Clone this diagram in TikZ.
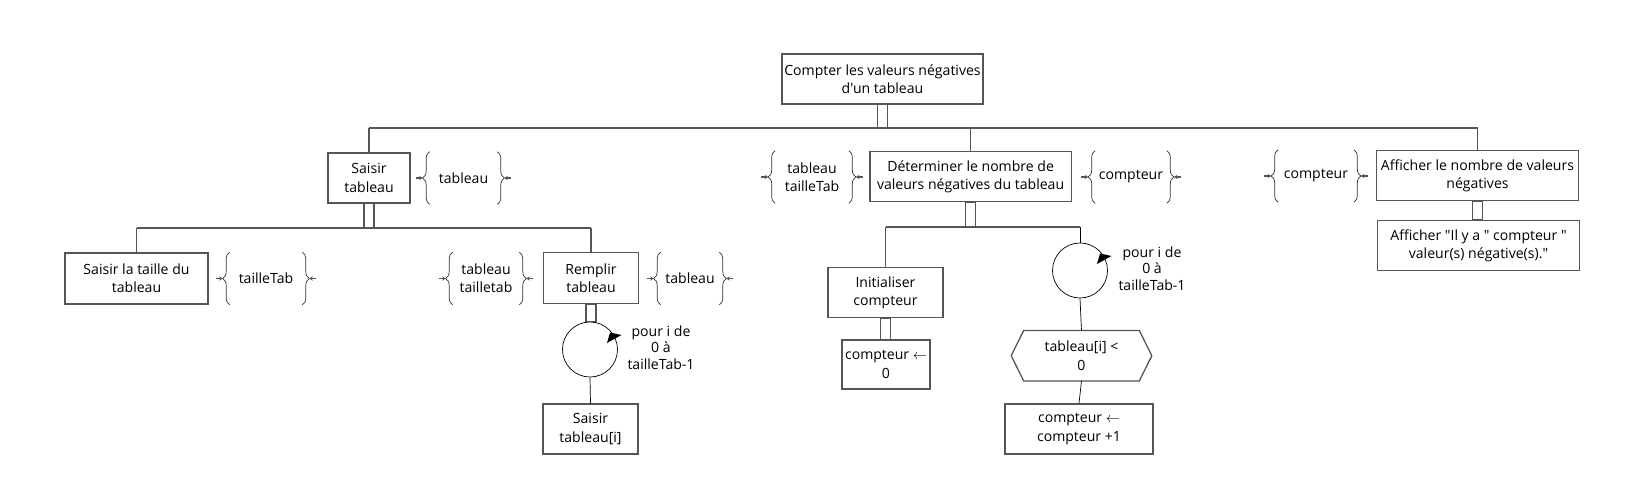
\documentclass[tikz,border=0pt]{standalone}
\usepackage{fontspec}
\setmainfont{Open Sans}[Ligatures=TeXOff]
\usetikzlibrary{calc,arrows.meta,decorations.pathreplacing}
\definecolor{trait}{HTML}{555555}

\begin{document}
\begin{tikzpicture}[x=0.025cm,y=-0.025cm,
	font=\fontsize{10}{13}\selectfont,
	tache/.style={draw=trait,line width=0.9pt,align=center,inner sep=1pt},
	donnee/.style={align=center,minimum height=1.3cm,inner sep=0pt},
	accolade/.style={draw=black!80,line width=0.5pt,decorate,decoration={brace,amplitude=5pt}},
	fleche/.style={draw=trait,line width=1pt,-{Stealth[length=2.5pt,width=3pt]}},
	boucle/.style={circle,draw,line width=0.5pt,minimum size=1.375cm,inner sep=0pt},
	lien/.style={draw=trait,line width=0.9pt}]
				\useasboundingbox (0,0) rectangle (1640,499);
				\coordinate (busA) at (0,128);
				\coordinate (busB) at (0,228);
				\coordinate (busC) at (0,227);
				
				\node[tache,minimum width=5.025cm,minimum height=1.25cm] (racine) at (882.5,79) {Compter les valeurs négatives\\d'un tableau};
				\node[tache,minimum width=2.05cm,minimum height=1.25cm] (saisir) at (369,178) {Saisir\\tableau};
				\node[tache,minimum width=5.025cm,minimum height=1.25cm] (determ) at (970.6,176.7) {Déterminer le nombre de\\valeurs négatives du tableau};
				\node[tache,minimum width=5.05cm,minimum height=1.25cm] (afficher) at (1477.5,175.7) {Afficher le nombre de valeurs\\négatives};
				\node[tache,minimum width=5.05cm,minimum height=1.25cm] (message) at (1478.5,245.7) {Afficher "Il y a " compteur "\\valeur(s) négative(s)."};
				\node[tache,minimum width=3.575cm,minimum height=1.275cm] (taille) at (136.5,278.5) {Saisir la taille du\\tableau};
				\node[tache,minimum width=2.375cm,minimum height=1.275cm] (remplir) at (591,278) {Remplir\\tableau};
				\node[tache,minimum width=2.375cm,minimum height=1.25cm] (saisirI) at (590.5,429) {Saisir\\tableau[i]};
				\node[tache,minimum width=2.875cm,minimum height=1.25cm] (init) at (885.5,292.7) {Initialiser\\compteur};
				\node[tache,minimum width=2.2cm,minimum height=1.225cm] (zero) at (886,364.5) {compteur $\leftarrow$\\0};
				\node[tache,minimum width=3.7cm,minimum height=1.25cm] (inc) at (1079,429) {compteur $\leftarrow$\\compteur +1};
				\node[align=center,minimum width=3.5cm,minimum height=1.25cm,inner sep=0pt] (test) at (1081.5,355.7) {tableau[i] <\\0};
				\draw[lien] (test.west) -- ($(test.north west)+(12.5,0)$) -- ($(test.north east)+(-12.5,0)$) -- (test.east)
				-- ($(test.south east)+(-12.5,0)$) -- ($(test.south west)+(12.5,0)$) -- cycle;
				
				\node[boucle] (boucleA) at (590,349.5) {};
				\node[boucle] (boucleB) at (1080,270.5) {};
				\node[align=center,font=\fontsize{10}{11.7}\selectfont] (pourA) at ($(boucleA.center)+(71,-2)$) {pour i de\\0 à\\tailleTab-1};
				\node[align=center,font=\fontsize{10}{11.7}\selectfont] (pourB) at ($(boucleB.center)+(72,-2)$) {pour i de\\0 à\\tailleTab-1};
				\foreach \b in {boucleA,boucleB}{
					\fill ($(\b.center)+(17,-6.5)$) -- ($(\b.center)+(20,-17)$) -- ($(\b.center)+(31.5,-14.5)$) -- cycle;}
				
				\node[donnee,minimum width=2.025cm] (dTab) at (463.5,178) {tableau};
				\node[donnee,minimum width=2.15cm] (dTaille) at (266,278.5) {tailleTab};
				\node[donnee,minimum width=2cm] (dTabTaille) at (486,278.5) {tableau\\tailletab};
				\node[donnee,minimum width=1.8cm] (dTabB) at (690,278.5) {tableau};
				\node[donnee,minimum width=2.175cm] (dTabTailleB) at (812,177) {tableau\\tailleTab};
				\node[donnee,minimum width=2.125cm] (dCpt) at (1131,177) {compteur};
				\node[donnee,minimum width=2.225cm] (dCptB) at (1316,176) {compteur};
				
				\foreach \d in {dTab,dTaille,dTabTaille,dTabB,dTabTailleB,dCpt,dCptB}{
					\draw[accolade] ($(\d.south west)+(7,0)$) -- ($(\d.north west)+(7,0)$);
					\draw[accolade] ($(\d.north east)+(-7,0)$) -- ($(\d.south east)+(-7,0)$);
					\draw[fleche] ($(\d.west)+(-7,0)$) -- (\d.west);
					\draw[fleche] ($(\d.east)+(7,0)$) -- (\d.east);}
				
				\draw[lien] (saisir.north |- busA) -- (afficher.north |- busA);
				\draw[lien] (taille.north |- busB) -- (remplir.north |- busB);
				\draw[lien] (init.north |- busC) -- (boucleB.north |- busC);
				
				\foreach \n in {saisir,determ,afficher}{
					\draw[lien] (\n.north) -- (\n.north |- busA);}
				\foreach \n in {taille,remplir}{
					\draw[lien] (\n.north) -- (\n.north |- busB);}
				\draw[lien] (init.north) -- (init.north |- busC);
				
				\foreach \a/\b in {racine/busA,saisir/busB,determ/busC,remplir/boucleA.north,init/zero.north,afficher/message.north}{
					\draw[lien] ($(\a.south)+(-5,0)$) rectangle ($(\a.south |- \b)+(5,0)$);}
				
				\draw[line width=0.5pt] (boucleB.north) -- (boucleB.north |- busC);
				\draw[line width=0.5pt] (boucleA.south) -- (saisirI.north);
				\draw[line width=0.5pt] (boucleB.south) -- (test.north);
				\draw[line width=0.5pt] (test.south) -- (inc.north);
\end{tikzpicture}
\end{document}
